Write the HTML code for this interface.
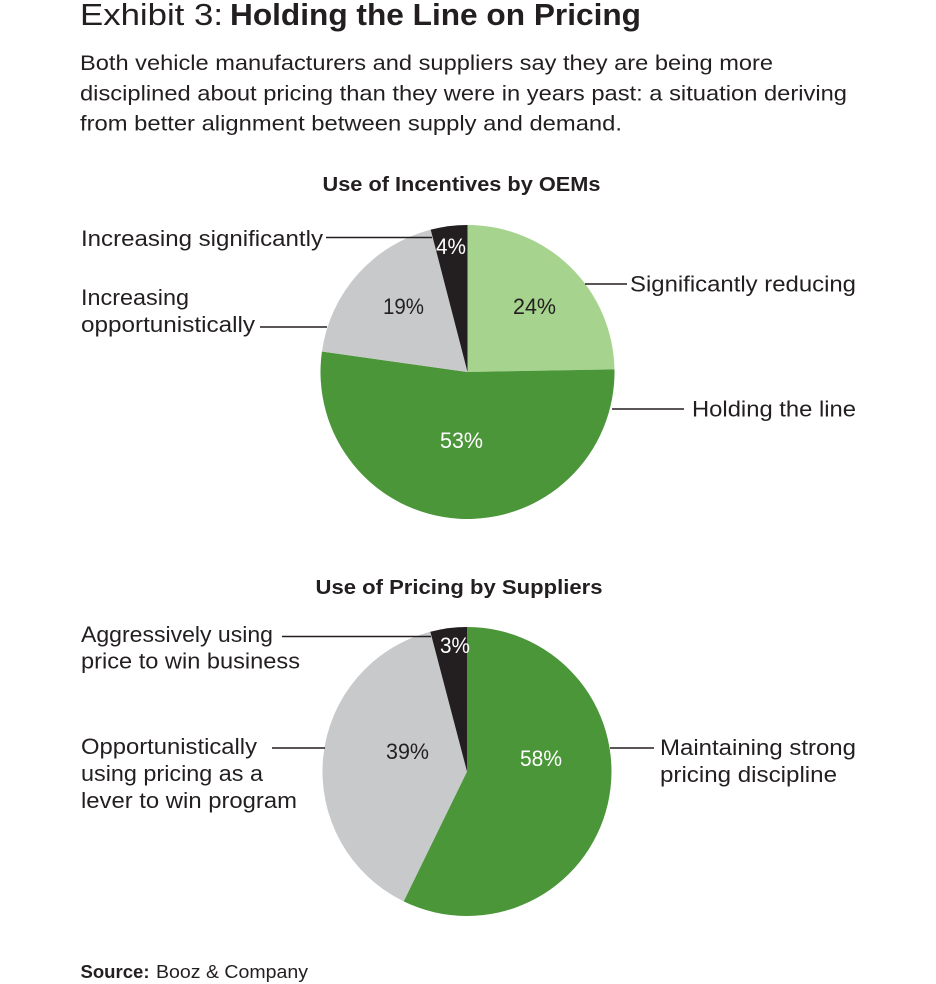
<!DOCTYPE html>
<html>
<head>
<meta charset="utf-8">
<style>
  html, body { margin: 0; padding: 0; background: #ffffff; }
  svg { display: block; }
  text { font-family: "Liberation Sans", "DejaVu Sans", sans-serif; fill: #231f20; }
  .b { font-weight: bold; }
  .w { fill: #ffffff; }
</style>
</head>
<body>
<svg width="936" height="984" viewBox="0 0 936 984" xmlns="http://www.w3.org/2000/svg">
  <rect x="0" y="0" width="936" height="984" fill="#ffffff"/>

  <!-- Title -->
  <text x="80" y="25" font-size="31" textLength="143" lengthAdjust="spacingAndGlyphs">Exhibit 3:</text>
  <text class="b" x="230" y="25" font-size="31" textLength="411" lengthAdjust="spacingAndGlyphs">Holding the Line on Pricing</text>

  <!-- Paragraph -->
  <text x="80" y="70" font-size="21.5" textLength="693" lengthAdjust="spacingAndGlyphs">Both vehicle manufacturers and suppliers say they are being more</text>
  <text x="80" y="100.5" font-size="21.5" textLength="767" lengthAdjust="spacingAndGlyphs">disciplined about pricing than they were in years past: a situation deriving</text>
  <text x="80" y="130.5" font-size="21.5" textLength="542" lengthAdjust="spacingAndGlyphs">from better alignment between supply and demand.</text>

  <!-- Pie 1 title -->
  <text class="b" x="322.5" y="191" font-size="20" textLength="278" lengthAdjust="spacingAndGlyphs">Use of Incentives by OEMs</text>

  <!-- Pie 1 -->
  <g>
    <path d="M467.5,372 L467.5,225 A147,147 0 0 1 614.48,369.43 Z" fill="#a6d38e"/>
    <path d="M467.5,372 L614.48,369.43 A147,147 0 1 1 321.93,351.54 Z" fill="#4a9639"/>
    <path d="M467.5,372 L321.93,351.54 A147,147 0 0 1 430.69,229.68 Z" fill="#c8c9cb"/>
    <path d="M467.5,372 L430.69,229.68 A147,147 0 0 1 467.5,225 Z" fill="#231f20"/>
  </g>
  <text x="513" y="314" font-size="22" textLength="43" lengthAdjust="spacingAndGlyphs">24%</text>
  <text x="383" y="314" font-size="22" textLength="41" lengthAdjust="spacingAndGlyphs">19%</text>
  <text class="w" x="436" y="254" font-size="22" textLength="30" lengthAdjust="spacingAndGlyphs">4%</text>
  <text class="w" x="440" y="448" font-size="22" textLength="43" lengthAdjust="spacingAndGlyphs">53%</text>

  <!-- Pie 1 labels -->
  <g stroke="#231f20" stroke-width="1.4">
    <line x1="326" y1="237.5" x2="432" y2="237.5"/>
    <line x1="260" y1="327" x2="327" y2="327"/>
    <line x1="585" y1="284" x2="627" y2="284"/>
    <line x1="612" y1="409" x2="684" y2="409"/>
  </g>
  <text x="81" y="246" font-size="22" textLength="242" lengthAdjust="spacingAndGlyphs">Increasing significantly</text>
  <text x="81" y="305" font-size="22" textLength="108" lengthAdjust="spacingAndGlyphs">Increasing</text>
  <text x="81" y="332" font-size="22" textLength="174" lengthAdjust="spacingAndGlyphs">opportunistically</text>
  <text x="630" y="291.5" font-size="22" textLength="226" lengthAdjust="spacingAndGlyphs">Significantly reducing</text>
  <text x="692" y="416.5" font-size="22" textLength="164" lengthAdjust="spacingAndGlyphs">Holding the line</text>

  <!-- Pie 2 title -->
  <text class="b" x="315.5" y="594" font-size="20" textLength="287" lengthAdjust="spacingAndGlyphs">Use of Pricing by Suppliers</text>

  <!-- Pie 2 -->
  <g>
    <path d="M467,771.5 L467,627 A144.5,144.5 0 1 1 403.65,901.38 Z" fill="#4a9639"/>
    <path d="M467,771.5 L403.65,901.38 A144.5,144.5 0 0 1 430.33,631.73 Z" fill="#c8c9cb"/>
    <path d="M467,771.5 L430.33,631.73 A144.5,144.5 0 0 1 467,627 Z" fill="#231f20"/>
  </g>
  <text class="w" x="440" y="653" font-size="22" textLength="30" lengthAdjust="spacingAndGlyphs">3%</text>
  <text x="386" y="759" font-size="22" textLength="43" lengthAdjust="spacingAndGlyphs">39%</text>
  <text class="w" x="520" y="766" font-size="22" textLength="42" lengthAdjust="spacingAndGlyphs">58%</text>

  <!-- Pie 2 labels -->
  <g stroke="#231f20" stroke-width="1.4">
    <line x1="282" y1="636.5" x2="431" y2="636.5"/>
    <line x1="272" y1="748" x2="325" y2="748"/>
    <line x1="610" y1="748" x2="654" y2="748"/>
  </g>
  <text x="81" y="642" font-size="22" textLength="192" lengthAdjust="spacingAndGlyphs">Aggressively using</text>
  <text x="81" y="668.5" font-size="22" textLength="219" lengthAdjust="spacingAndGlyphs">price to win business</text>
  <text x="81" y="754" font-size="22" textLength="176" lengthAdjust="spacingAndGlyphs">Opportunistically</text>
  <text x="81" y="781" font-size="22" textLength="182" lengthAdjust="spacingAndGlyphs">using pricing as a</text>
  <text x="81" y="808" font-size="22" textLength="216" lengthAdjust="spacingAndGlyphs">lever to win program</text>
  <text x="660" y="755" font-size="22" textLength="196" lengthAdjust="spacingAndGlyphs">Maintaining strong</text>
  <text x="660" y="782" font-size="22" textLength="177" lengthAdjust="spacingAndGlyphs">pricing discipline</text>

  <!-- Source -->
  <text class="b" x="80.5" y="978" font-size="18" textLength="69" lengthAdjust="spacingAndGlyphs">Source:</text>
  <text x="156" y="978" font-size="18" textLength="152" lengthAdjust="spacingAndGlyphs">Booz &amp; Company</text>
</svg>
</body>
</html>
